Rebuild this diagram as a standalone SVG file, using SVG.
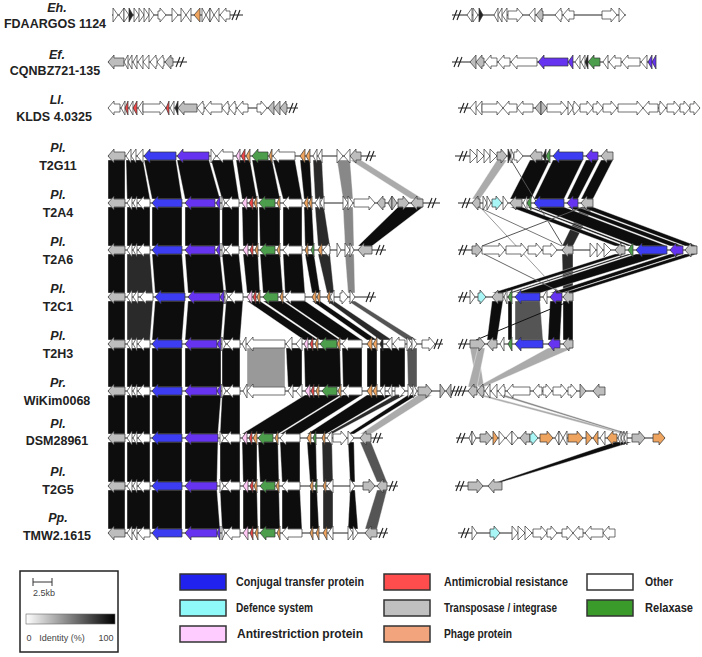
<svg xmlns="http://www.w3.org/2000/svg" xmlns:xlink="http://www.w3.org/1999/xlink" width="702" height="657" viewBox="0 0 702 657">
<style>
.lbl{font-family:"Liberation Sans",Arial,sans-serif;font-size:12.5px;font-weight:bold;fill:#222;text-anchor:middle}
.sp{font-style:italic}
.row{fill:#fff}
.row path{stroke:#333;stroke-width:.7}
.tr{stroke:#222;stroke-width:1}
.brk line{stroke:#222;stroke-width:1.1}
.gr{fill:#bdbdbd}.b{fill:#3c3cf2}.p{fill:#6633f0}.g{fill:#4c9e4c}.o{fill:#eea45e}.r{fill:#f04848}.k{fill:#ffc8f5}.c{fill:#a8f6f6}.d{fill:#222}
#links polygon{stroke:#fff;stroke-width:.4}
.k1{fill:#0d0d0d}.k2{fill:#2a2a2a}.k3{fill:#555}.k4{fill:#888}.k5{fill:#ababab}.k6{fill:#999}
#links line{stroke-width:1}
.leg{font-family:"Liberation Sans",Arial,sans-serif;font-size:12px;font-weight:bold;fill:#222}
.sw{stroke:#333;stroke-width:1.5}
.sm{font-family:"Liberation Sans",Arial,sans-serif;font-size:9px;fill:#444;text-anchor:middle}
</style>
<defs>
<g id="brk" class="brk"><line x1="-4" y1="5" x2="0" y2="-5"/><line x1="0" y1="5" x2="4" y2="-5"/></g>
<linearGradient id="idg" x1="0" x2="1" y1="0" y2="0"><stop offset="0" stop-color="#fff"/><stop offset="1" stop-color="#000"/></linearGradient>
</defs>
<rect width="702" height="657" fill="#fff"/>

<g id="links">
<!-- 1-2 -->
<polygon class="k1" points="108,160 125,160 125,199 108,199"/>
<polygon class="k1" points="126,160 143,160 150,199 127,199"/>
<polygon class="k1" points="144,160 176,160 182,199 152,199"/>
<polygon class="k1" points="177,160 209,160 220,199 185,199"/>
<polygon class="k1" points="211,160 233,160 239,199 222,199"/>
<polygon class="k1" points="236,160 250,160 257,199 242,199"/>
<polygon class="k1" points="252,160 272,160 280,199 259,199"/>
<polygon class="k1" points="273,160 295,160 302,199 283,199"/>
<polygon class="k1" points="300,160 310,160 312,199 304,199"/>
<polygon class="k2" points="313,160 322,160 324,199 315,199"/>
<polygon class="k4" points="337,160 350,160 353,199 343,199"/>
<polygon class="k5" points="350,160 361,160 423,199 411,199"/>
<!-- 2-3 -->
<polygon class="k1" points="108,207 125,207 125,246 108,246"/>
<polygon class="k1" points="127,207 150,207 150,246 127,246"/>
<polygon class="k1" points="152,207 182,207 182,246 152,246"/>
<polygon class="k1" points="185,207 220,207 220,246 185,246"/>
<polygon class="k1" points="222,207 239,207 239,246 222,246"/>
<polygon class="k1" points="242,207 258,207 258,246 243,246"/>
<polygon class="k1" points="259,207 280,207 280,246 260,246"/>
<polygon class="k1" points="283,207 302,207 302,246 283,246"/>
<polygon class="k1" points="304,207 312,207 314,246 305,246"/>
<polygon class="k2" points="315,207 324,207 330,246 318,246"/>
<polygon class="k4" points="343,207 353,207 354,246 345,246"/>
<polygon class="k1" points="398,207 423,207 372,246 358,246"/>
<!-- 3-4 -->
<polygon class="k1" points="108,254 125,254 125,293 108,293"/>
<polygon class="k2" points="127,254 150,254 153,293 127,293"/>
<polygon class="k1" points="152,254 182,254 185,293 155,293"/>
<polygon class="k1" points="185,254 220,254 224,293 188,293"/>
<polygon class="k1" points="222,254 239,254 243,293 226,293"/>
<polygon class="k1" points="243,254 258,254 260,293 247,293"/>
<polygon class="k1" points="260,254 280,254 283,293 263,293"/>
<polygon class="k1" points="283,254 302,254 305,293 285,293"/>
<polygon class="k1" points="305,254 314,254 320,293 312,293"/>
<polygon class="k2" points="318,254 330,254 334,293 327,293"/>
<polygon class="k4" points="345,254 354,254 355,293 348,293"/>
<!-- 4-5 -->
<polygon class="k1" points="108,301 125,301 125,340 108,340"/>
<polygon class="k2" points="127,301 153,301 150,340 127,340"/>
<polygon class="k1" points="155,301 185,301 182,340 152,340"/>
<polygon class="k1" points="188,301 224,301 221,340 185,340"/>
<polygon class="k1" points="226,301 243,301 240,340 223,340"/>
<polygon class="k1" points="247,301 260,301 318,340 304,340"/>
<polygon class="k1" points="263,301 283,301 340,340 320,340"/>
<polygon class="k1" points="285,301 305,301 362,340 342,340"/>
<polygon class="k1" points="312,301 320,301 377,340 367,340"/>
<polygon class="k2" points="327,301 334,301 392,340 380,340"/>
<polygon class="k3" points="348,301 355,301 417,340 407,340"/>
<!-- 5-6 -->
<polygon class="k1" points="108,348 125,348 125,387 108,387"/>
<polygon class="k1" points="127,348 150,348 150,387 127,387"/>
<polygon class="k1" points="152,348 182,348 182,387 152,387"/>
<polygon class="k1" points="185,348 221,348 221,387 185,387"/>
<polygon class="k1" points="222,348 240,348 240,387 222,387"/>
<polygon class="k6" points="247,348 285,348 285,387 247,387"/>
<polygon class="k1" points="286,348 302,348 302,387 288,387"/>
<polygon class="k1" points="304,348 340,348 341,387 305,387"/>
<polygon class="k1" points="342,348 362,348 362,387 343,387"/>
<polygon class="k1" points="367,348 377,348 377,387 367,387"/>
<polygon class="k1" points="380,348 405,348 405,387 380,387"/>
<polygon class="k3" points="407,348 417,348 417,387 408,387"/>
<!-- 6-7 -->
<polygon class="k1" points="108,395 125,395 125,434 108,434"/>
<polygon class="k1" points="127,395 150,395 150,434 127,434"/>
<polygon class="k1" points="152,395 182,395 182,434 152,434"/>
<polygon class="k1" points="185,395 221,395 218,434 185,434"/>
<polygon class="k1" points="222,395 240,395 240,434 220,434"/>
<polygon class="k1" points="305,395 341,395 278,434 242,434"/>
<polygon class="k1" points="343,395 362,395 300,434 280,434"/>
<polygon class="k1" points="367,395 392,395 326,434 307,434"/>
<polygon class="k2" points="395,395 405,395 332,434 327,434"/>
<polygon class="k1" points="408,395 417,395 354,434 348,434"/>
<polygon class="k5" points="418,395 432,395 371,434 360,434"/>
<!-- 7-8 -->
<polygon class="k1" points="108,442 125,442 125,482 108,482"/>
<polygon class="k1" points="127,442 150,442 150,482 127,482"/>
<polygon class="k1" points="152,442 182,442 182,482 152,482"/>
<polygon class="k1" points="185,442 218,442 217,482 185,482"/>
<polygon class="k1" points="220,442 240,442 240,482 220,482"/>
<polygon class="k1" points="242,442 257,442 257,482 243,482"/>
<polygon class="k1" points="258,442 278,442 279,482 260,482"/>
<polygon class="k1" points="280,442 300,442 300,482 282,482"/>
<polygon class="k1" points="307,442 316,442 317,482 310,482"/>
<polygon class="k2" points="322,442 332,442 333,482 323,482"/>
<polygon class="k1" points="348,442 354,442 355,482 350,482"/>
<polygon class="k3" points="360,442 371,442 387,482 377,482"/>
<!-- 8-9 -->
<polygon class="k1" points="108,490 125,490 125,529 108,529"/>
<polygon class="k1" points="127,490 150,490 150,529 127,529"/>
<polygon class="k1" points="152,490 182,490 182,529 152,529"/>
<polygon class="k1" points="185,490 217,490 220,529 185,529"/>
<polygon class="k1" points="220,490 240,490 240,529 222,529"/>
<polygon class="k1" points="243,490 257,490 258,529 243,529"/>
<polygon class="k1" points="260,490 279,490 280,529 260,529"/>
<polygon class="k1" points="282,490 300,490 302,529 282,529"/>
<polygon class="k1" points="310,490 317,490 319,529 310,529"/>
<polygon class="k2" points="323,490 333,490 333,529 323,529"/>
<polygon class="k1" points="350,490 355,490 358,529 348,529"/>
<polygon class="k3" points="377,490 387,490 377,529 365,529"/>
<!-- right 1-2 -->
<polygon class="k5" points="497,160 507,160 480,199 472,199"/>
<polygon class="k1" points="530,160 550,160 531,199 510,199"/>
<polygon class="k1" points="553,160 583,160 564,199 534,199"/>
<polygon class="k1" points="586,160 598,160 578,199 567,199"/>
<polygon class="k1" points="601,160 613,160 593,199 581,199"/>
<line x1="511" y1="160" x2="563" y2="246" stroke="#555"/>
<!-- right 2-3 -->
<polygon class="k2" points="581,207 593,207 573,246 562,246"/>
<polygon class="k1" points="510,207 522,207 625,246 615,246"/>
<polygon class="k1" points="527,207 531,207 633,246 628,246"/>
<polygon class="k1" points="534,207 564,207 667,246 636,246"/>
<polygon class="k1" points="567,207 578,207 683,246 670,246"/>
<polygon class="k1" points="581,207 593,207 697,246 685,246"/>
<line x1="478" y1="207" x2="562" y2="246" stroke="#777"/>
<line x1="480" y1="207" x2="560" y2="293" stroke="#999" stroke-width=".8"/>
<line x1="482" y1="246" x2="583" y2="207" stroke="#555"/>
<!-- right 3-4 -->
<polygon class="k2" points="562,254 573,254 573,293 563,293"/>
<polygon class="k1" points="615,254 625,254 503,293 492,293"/>
<polygon class="k1" points="628,254 633,254 512,293 508,293"/>
<polygon class="k1" points="636,254 667,254 540,293 515,293"/>
<polygon class="k1" points="670,254 683,254 562,293 550,293"/>
<polygon class="k1" points="685,254 697,254 573,293 563,293"/>
<line x1="484" y1="254" x2="562" y2="293" stroke="#666"/>
<!-- right 4-5 -->
<polygon class="k1" points="492,301 503,301 497,340 487,340"/>
<polygon class="k1" points="508,301 512,301 512,340 508,340"/>
<polygon class="k3" points="515,301 540,301 543,340 515,340"/>
<polygon class="k1" points="550,301 562,301 560,340 548,340"/>
<polygon class="k1" points="563,301 573,301 573,340 563,340"/>
<line x1="570" y1="301" x2="476" y2="340" stroke="#111" stroke-width="2"/>
<!-- right 5-6 -->
<polygon class="k5" points="470,348 478,348 484,387 477,387"/>
<polygon class="k5" points="478,348 485,348 477,387 468,387"/>
<polygon class="k5" points="548,348 573,348 484,387 477,387"/>
<!-- right 6-7 -->
<polygon class="k5" points="477,395 484,395 632,434 622,434"/>
<polygon class="k4" points="498,395 505,395 630,434 625,434"/>
<!-- right 7-8 -->
<polygon class="k1" points="615,442 632,442 502,482 497,482"/>
</g>

<g id="Eh-FDAARGOS1124">
<text class="lbl sp" x="57" y="12">Eh.</text>
<text class="lbl" x="55" y="28">FDAARGOS 1124</text>
<g class="row" transform="translate(0,15)">
<line class="tr" x1="112" y1="0" x2="243" y2="0"/><use href="#brk" x="236"/>
<path d="M118,0l-5,-7v14z"/><path d="M119,0l5,-7v14z"/><path d="M129,0l-5,-7v14z"/><path class="d" d="M133,0l-4,-7v14z"/><path d="M139,0l-5,-7v14z"/><path d="M144,0l-5,-7v14z"/><path d="M149,0l-5,-7v14z"/><path d="M154,0l-5,-7v14z"/><path d="M166,0l-6,-7v3h-2v8h2v3z"/><path d="M178,0l-6,-7v14z"/><path d="M186,0l-5,-7v14z"/><path d="M186,0l5,-7v14z"/><path class="o" d="M194,0l6,-7v14z"/><path d="M206,0l-4,-7v14z"/><path d="M206,0l4,-7v14z"/><path d="M214,0l-4,-7v14z"/><path d="M214,0l5,-7v14z"/><path d="M220,0l6,-7v3h4v8h-4v3z"/>
</g>
<g class="row" transform="translate(0,15)">
<line class="tr" x1="452" y1="0" x2="626" y2="0"/><use href="#brk" x="457"/>
<path d="M467,0l5,-7v14z"/><path d="M478,0l-5,-7v14z"/><path class="d" d="M483,0l-4,-7v14z"/><path d="M494,0l4,-7v14z"/><path d="M498,0l4,-7v14z"/><path d="M502,0l5,-7v14z"/><path d="M523,0l-6,-7v3h-9v8h9v3z"/><path d="M529,0l6,-7v14z"/><path class="gr" d="M536,0l6,-7v3h1v8h-1v3z"/><path d="M555,0l6,-7v3h1v8h-1v3z"/><path d="M563,0l6,-7v3h5v8h-5v3z"/><path d="M617,0l-6,-7v3h-9v8h9v3z"/><path d="M625,0l-6,-7v14z"/>
</g>
</g>

<g id="Ef-CQNBZ721-135">
<text class="lbl sp" x="57" y="59">Ef.</text>
<text class="lbl" x="55" y="75">CQNBZ721-135</text>
<g class="row" transform="translate(0,62)">
<line class="tr" x1="108" y1="0" x2="187" y2="0"/><use href="#brk" x="180"/>
<path class="gr" d="M108,0l6,-7v3h10v8h-10v3z"/><path d="M124,0l4,-7v14z"/><path d="M128,0l4,-7v14z"/><path d="M133,0l4,-7v14z"/><path d="M138,0l5,-7v14z"/><path d="M143,0l6,-7v14z"/><path d="M150,0l6,-7v3h1v8h-1v3z"/><path d="M157,0l6,-7v3h1v8h-1v3z"/><path class="gr" d="M165,0l6,-7v3h2v8h-2v3z"/>
</g>
<g class="row" transform="translate(0,62)">
<line class="tr" x1="452" y1="0" x2="656" y2="0"/><use href="#brk" x="458"/>
<path class="gr" d="M470,0l6,-7v14z"/><path class="gr" d="M476,0l6,-7v3h2v8h-2v3z"/><path d="M485,0l6,-7v3h6v8h-6v3z"/><path d="M498,0l6,-7v3h6v8h-6v3z"/><path d="M511,0l6,-7v3h20v8h-20v3z"/><path class="p" d="M538,0l6,-7v3h24v8h-24v3z"/><path class="p" d="M568,0l5,-7v14z"/><path d="M575,0l5,-7v14z"/><path d="M581,0l4,-7v14z"/><path class="d" d="M585,0l3,-7v14z"/><path class="g" d="M588,0l6,-7v3h6v8h-6v3z"/><path d="M603,0l5,-7v14z"/><path d="M609,0l6,-7v3h6v8h-6v3z"/><path d="M622,0l6,-7v3h12v8h-12v3z"/><path d="M641,0l6,-7v14z"/><path class="p" d="M648,0l4,-7v14z"/><path class="p" d="M652,0l4,-7v14z"/>
</g>
</g>

<g id="Ll-KLDS4.0325">
<text class="lbl sp" x="57" y="104">Ll.</text>
<text class="lbl" x="54" y="121">KLDS 4.0325</text>
<g class="row" transform="translate(0,108)">
<line class="tr" x1="108" y1="0" x2="298" y2="0"/><use href="#brk" x="293"/>
<path d="M108,0l6,-7v3h6v8h-6v3z"/><path d="M121,0l4,-7v14z"/><path class="r" d="M125,0l3,-7v14z"/><path d="M129,0l4,-7v14z"/><path class="r" d="M133,0l4,-7v14z"/><path d="M138,0l5,-7v14z"/><path d="M166,0l-6,-7v3h-17v8h17v3z"/><path class="r" d="M166,0l3,-7v14z"/><path d="M170,0l4,-7v14z"/><path class="d" d="M175,0l3,-7v14z"/><path class="gr" d="M178,0l6,-7v3h13v8h-13v3z"/><path d="M197,0l6,-7v3h1v8h-1v3z"/><path d="M205,0l6,-7v3h11v8h-11v3z"/><path d="M222,0l6,-7v3h1v8h-1v3z"/><path d="M229,0l6,-7v3h1v8h-1v3z"/><path d="M237,0l6,-7v3h5v8h-5v3z"/><path d="M267,0l-6,-7v3h-4v8h4v3z"/><path class="gr" d="M268,0l6,-7v14z"/><path class="gr" d="M274,0l6,-7v14z"/><path class="gr" d="M280,0l6,-7v3h1v8h-1v3z"/>
</g>
<g class="row" transform="translate(0,108)">
<line class="tr" x1="458" y1="0" x2="700" y2="0"/><use href="#brk" x="464"/>
<path d="M470,0l6,-7v14z"/><path d="M476,0l6,-7v14z"/><path d="M503,0l-6,-7v3h-15v8h15v3z"/><path d="M503,0l6,-7v3h8v8h-8v3z"/><path d="M517,0l6,-7v3h10v8h-10v3z"/><path class="gr" d="M535,0l6,-7v14z"/><path class="gr" d="M547,0l-6,-7v14z"/><path d="M567,0l-6,-7v3h-14v8h14v3z"/><path d="M573,0l-5,-7v14z"/><path d="M580,0l-6,-7v3h-1v8h1v3z"/><path d="M593,0l-6,-7v3h-7v8h7v3z"/><path d="M603,0l-6,-7v3h-4v8h4v3z"/><path d="M617,0l-6,-7v3h-8v8h8v3z"/><path d="M643,0l-6,-7v3h-19v8h19v3z"/><path d="M643,0l6,-7v3h9v8h-9v3z"/><path d="M666,0l-6,-7v3h-1v8h1v3z"/><path d="M680,0l-6,-7v3h-7v8h7v3z"/><path d="M690,0l-6,-7v3h-4v8h4v3z"/><path d="M700,0l-6,-7v3h-4v8h4v3z"/>
</g>
</g>

<g id="Pl-T2G11">
<text class="lbl sp" x="58" y="152">Pl.</text>
<text class="lbl" x="58" y="170">T2G11</text>
<g class="row" transform="translate(0,156)">
<line class="tr" x1="108" y1="0" x2="376" y2="0"/><use href="#brk" x="370"/>
<path class="gr" d="M108,0l6,-7v3h11v8h-11v3z"/><path d="M126,0l5,-7v14z"/><path d="M131,0l5,-7v14z"/><path d="M137,0l6,-7v14z"/><path class="b" d="M144,0l6,-7v3h26v8h-26v3z"/><path class="p" d="M177,0l6,-7v3h26v8h-26v3z"/><path d="M216,0l-5,-7v14z"/><path d="M217,0l6,-7v3h10v8h-10v3z"/><path class="k" d="M236,0l4,-7v14z"/><path class="r" d="M241,0l4,-7v14z"/><path class="o" d="M246,0l4,-7v14z"/><path class="g" d="M252,0l6,-7v3h10v8h-10v3z"/><path class="o" d="M269,0l3,-7v14z"/><path d="M273,0l6,-7v3h16v8h-16v3z"/><path class="o" d="M300,0l5,-7v14z"/><path class="o" d="M306,0l4,-7v14z"/><path d="M313,0l4,-7v14z"/><path d="M318,0l4,-7v14z"/><path d="M343,0l-6,-7v14z"/><path d="M344,0l6,-7v14z"/><path class="gr" d="M350,0l6,-7v3h5v8h-5v3z"/>
</g>
<g class="row" transform="translate(0,156)">
<line class="tr" x1="455" y1="0" x2="613" y2="0"/><use href="#brk" x="463"/>
<path d="M477,0l-7,-7v14z"/><path d="M484,0l-7,-7v14z"/><path d="M490,0l-6,-7v14z"/><path d="M497,0l-7,-7v14z"/><path class="gr" d="M507,0l-6,-7v3h-4v8h4v3z"/><path class="d" d="M511,0l-3,-7v14z"/><path d="M514,0l-3,-7v14z"/><path d="M523,0l-6,-7v3h-3v8h3v3z"/><path class="gr" d="M530,0l6,-7v3h6v8h-6v3z"/><path class="d" d="M543,0l3,-7v14z"/><path class="g" d="M546,0l4,-7v14z"/><path class="b" d="M553,0l6,-7v3h24v8h-24v3z"/><path class="p" d="M586,0l6,-7v3h6v8h-6v3z"/><path class="gr" d="M601,0l6,-7v3h6v8h-6v3z"/>
</g>
</g>

<g id="Pl-T2A4">
<text class="lbl sp" x="58" y="199">Pl.</text>
<text class="lbl" x="58" y="217">T2A4</text>
<g class="row" transform="translate(0,203)">
<line class="tr" x1="108" y1="0" x2="440" y2="0"/><use href="#brk" x="432"/>
<path class="gr" d="M108,0l6,-7v3h11v8h-11v3z"/><path d="M127,0l5,-7v14z"/><path d="M133,0l4,-7v14z"/><path d="M138,0l6,-7v3h6v8h-6v3z"/><path class="b" d="M152,0l6,-7v3h24v8h-24v3z"/><path class="p" d="M185,0l6,-7v3h24v8h-24v3z"/><path class="p" d="M216,0l4,-7v14z"/><path d="M225,0l-3,-7v14z"/><path d="M226,0l6,-7v3h7v8h-7v3z"/><path class="k" d="M242,0l5,-7v14z"/><path class="r" d="M249,0l4,-7v14z"/><path class="o" d="M254,0l3,-7v14z"/><path class="g" d="M259,0l6,-7v3h10v8h-10v3z"/><path class="o" d="M277,0l3,-7v14z"/><path d="M283,0l6,-7v3h13v8h-13v3z"/><path class="o" d="M304,0l4,-7v14z"/><path class="o" d="M309,0l3,-7v14z"/><path d="M315,0l5,-7v14z"/><path d="M320,0l4,-7v14z"/><path d="M348,0l-5,-7v14z"/><path d="M353,0l-5,-7v14z"/><path d="M375,0l-6,-7v3h-15v8h15v3z"/><path class="gr" d="M377,0l6,-7v3h2v8h-2v3z"/><path class="gr" d="M388,0l4,-7v14z"/><path class="gr" d="M397,0l-5,-7v14z"/><path class="gr" d="M409,0l-6,-7v3h-5v8h5v3z"/><path class="gr" d="M411,0l6,-7v3h6v8h-6v3z"/>
</g>
<g class="row" transform="translate(0,203)">
<line class="tr" x1="458" y1="0" x2="593" y2="0"/><use href="#brk" x="466"/>
<path class="gr" d="M472,0l6,-7v3h2v8h-2v3z"/><path d="M487,0l-4,-7v14z"/><path d="M491,0l-4,-7v14z"/><path class="c" d="M502,0l-6,-7v3h-4v8h4v3z"/><path d="M508,0l-5,-7v14z"/><path class="gr" d="M510,0l6,-7v3h6v8h-6v3z"/><path d="M523,0l4,-7v14z"/><path class="g" d="M527,0l4,-7v14z"/><path class="b" d="M534,0l6,-7v3h24v8h-24v3z"/><path class="p" d="M567,0l6,-7v3h5v8h-5v3z"/><path class="gr" d="M581,0l6,-7v3h6v8h-6v3z"/>
</g>
</g>

<g id="Pl-T2A6">
<text class="lbl sp" x="58" y="246">Pl.</text>
<text class="lbl" x="58" y="264">T2A6</text>
<g class="row" transform="translate(0,250)">
<line class="tr" x1="108" y1="0" x2="386" y2="0"/><use href="#brk" x="380"/>
<path class="gr" d="M108,0l6,-7v3h11v8h-11v3z"/><path d="M127,0l5,-7v14z"/><path d="M133,0l4,-7v14z"/><path d="M138,0l6,-7v3h6v8h-6v3z"/><path class="b" d="M152,0l6,-7v3h24v8h-24v3z"/><path class="p" d="M185,0l6,-7v3h24v8h-24v3z"/><path class="p" d="M216,0l4,-7v14z"/><path d="M225,0l-3,-7v14z"/><path d="M226,0l6,-7v3h7v8h-7v3z"/><path class="k" d="M243,0l5,-7v14z"/><path class="r" d="M250,0l3,-7v14z"/><path class="o" d="M255,0l3,-7v14z"/><path class="g" d="M260,0l6,-7v3h9v8h-9v3z"/><path class="o" d="M277,0l3,-7v14z"/><path d="M283,0l6,-7v3h13v8h-13v3z"/><path class="o" d="M305,0l3,-7v14z"/><path class="g" d="M311,0l3,-7v14z"/><path class="o" d="M318,0l4,-7v14z"/><path d="M323,0l6,-7v3h1v8h-1v3z"/><path d="M341,0l-4,-7v14z"/><path d="M350,0l-5,-7v14z"/><path d="M354,0l-4,-7v14z"/><path class="gr" d="M358,0l6,-7v3h8v8h-8v3z"/>
</g>
<g class="row" transform="translate(0,250)">
<line class="tr" x1="458" y1="0" x2="697" y2="0"/><use href="#brk" x="463"/>
<path class="gr" d="M482,0l-6,-7v3h-4v8h4v3z"/><path d="M505,0l-6,-7v3h-17v8h17v3z"/><path d="M527,0l-6,-7v3h-15v8h15v3z"/><path d="M542,0l-6,-7v3h-8v8h8v3z"/><path d="M557,0l-6,-7v3h-8v8h8v3z"/><path class="gr" d="M562,0l6,-7v3h5v8h-5v3z"/><path d="M596,0l-6,-7v14z"/><path d="M603,0l-6,-7v14z"/><path d="M611,0l-7,-7v14z"/><path class="gr" d="M615,0l6,-7v3h4v8h-4v3z"/><path class="g" d="M628,0l5,-7v14z"/><path class="b" d="M636,0l6,-7v3h25v8h-25v3z"/><path class="p" d="M670,0l6,-7v3h7v8h-7v3z"/><path class="gr" d="M685,0l6,-7v3h6v8h-6v3z"/>
</g>
</g>

<g id="Pl-T2C1">
<text class="lbl sp" x="58" y="293">Pl.</text>
<text class="lbl" x="58" y="311">T2C1</text>
<g class="row" transform="translate(0,297)">
<line class="tr" x1="108" y1="0" x2="376" y2="0"/><use href="#brk" x="370"/>
<path class="gr" d="M108,0l6,-7v3h11v8h-11v3z"/><path d="M127,0l5,-7v14z"/><path d="M133,0l5,-7v14z"/><path d="M140,0l6,-7v3h7v8h-7v3z"/><path class="b" d="M155,0l6,-7v3h24v8h-24v3z"/><path class="p" d="M188,0l6,-7v3h26v8h-26v3z"/><path class="p" d="M220,0l4,-7v14z"/><path d="M228,0l-3,-7v14z"/><path d="M229,0l6,-7v3h8v8h-8v3z"/><path class="k" d="M247,0l5,-7v14z"/><path class="r" d="M253,0l3,-7v14z"/><path class="o" d="M257,0l3,-7v14z"/><path class="g" d="M263,0l6,-7v3h9v8h-9v3z"/><path class="o" d="M280,0l3,-7v14z"/><path d="M285,0l6,-7v3h14v8h-14v3z"/><path class="o" d="M312,0l4,-7v14z"/><path class="o" d="M317,0l3,-7v14z"/><path class="o" d="M327,0l3,-7v14z"/><path d="M330,0l4,-7v14z"/><path d="M348,0l-6,-7v3h-2v8h2v3z"/><path d="M355,0l-5,-7v14z"/>
</g>
<g class="row" transform="translate(0,297)">
<line class="tr" x1="458" y1="0" x2="573" y2="0"/><use href="#brk" x="463"/>
<path d="M475,0l-5,-7v14z"/><path class="c" d="M486,0l-6,-7v3h-2v8h2v3z"/><path class="gr" d="M492,0l6,-7v3h5v8h-5v3z"/><path d="M504,0l3,-7v14z"/><path class="g" d="M508,0l4,-7v14z"/><path class="b" d="M515,0l6,-7v3h19v8h-19v3z"/><path d="M543,0l4,-7v14z"/><path class="p" d="M550,0l6,-7v3h6v8h-6v3z"/><path class="gr" d="M563,0l6,-7v3h4v8h-4v3z"/>
</g>
</g>

<g id="Pl-T2H3">
<text class="lbl sp" x="58" y="340">Pl.</text>
<text class="lbl" x="58" y="358">T2H3</text>
<g class="row" transform="translate(0,344)">
<line class="tr" x1="108" y1="0" x2="443" y2="0"/><use href="#brk" x="438"/>
<path class="gr" d="M108,0l6,-7v3h11v8h-11v3z"/><path d="M127,0l5,-7v14z"/><path d="M133,0l4,-7v14z"/><path d="M138,0l6,-7v3h6v8h-6v3z"/><path class="b" d="M152,0l6,-7v3h24v8h-24v3z"/><path class="p" d="M185,0l6,-7v3h26v8h-26v3z"/><path class="p" d="M217,0l4,-7v14z"/><path d="M226,0l-4,-7v14z"/><path d="M227,0l6,-7v3h7v8h-7v3z"/><path d="M242,0l4,-7v14z"/><path d="M247,0l6,-7v3h32v8h-32v3z"/><path d="M286,0l6,-7v14z"/><path d="M296,0l6,-7v14z"/><path class="k" d="M304,0l4,-7v14z"/><path class="r" d="M310,0l3,-7v14z"/><path class="o" d="M315,0l3,-7v14z"/><path class="g" d="M320,0l6,-7v3h11v8h-11v3z"/><path class="o" d="M337,0l3,-7v14z"/><path d="M342,0l6,-7v3h14v8h-14v3z"/><path class="o" d="M367,0l5,-7v14z"/><path class="o" d="M373,0l4,-7v14z"/><path class="d" d="M380,0l3,-7v14z"/><path d="M386,0l6,-7v14z"/><path d="M393,0l6,-7v3h6v8h-6v3z"/><path d="M412,0l-5,-7v14z"/><path d="M417,0l-5,-7v14z"/><path d="M435,0l-6,-7v3h-7v8h7v3z"/>
</g>
<g class="row" transform="translate(0,344)">
<line class="tr" x1="458" y1="0" x2="573" y2="0"/><use href="#brk" x="463"/>
<path class="gr" d="M485,0l-6,-7v3h-9v8h9v3z"/><path class="gr" d="M487,0l6,-7v3h4v8h-4v3z"/><path d="M500,0l4,-7v14z"/><path class="g" d="M508,0l4,-7v14z"/><path class="b" d="M515,0l6,-7v3h22v8h-22v3z"/><path class="p" d="M548,0l6,-7v3h6v8h-6v3z"/><path class="gr" d="M563,0l6,-7v3h4v8h-4v3z"/>
</g>
</g>

<g id="Pr-WiKim0068">
<text class="lbl sp" x="58" y="387">Pr.</text>
<text class="lbl" x="57" y="405">WiKim0068</text>
<g class="row" transform="translate(0,391)">
<line class="tr" x1="108" y1="0" x2="605" y2="0"/><use href="#brk" x="455"/><use href="#brk" x="462"/>
<path class="gr" d="M108,0l6,-7v3h11v8h-11v3z"/><path d="M127,0l5,-7v14z"/><path d="M133,0l4,-7v14z"/><path d="M138,0l6,-7v3h6v8h-6v3z"/><path class="b" d="M152,0l6,-7v3h24v8h-24v3z"/><path class="p" d="M185,0l6,-7v3h26v8h-26v3z"/><path class="p" d="M217,0l4,-7v14z"/><path d="M226,0l-4,-7v14z"/><path d="M227,0l6,-7v3h7v8h-7v3z"/><path d="M243,0l4,-7v14z"/><path d="M247,0l6,-7v3h32v8h-32v3z"/><path d="M288,0l5,-7v14z"/><path d="M296,0l6,-7v14z"/><path class="k" d="M305,0l5,-7v14z"/><path class="r" d="M311,0l3,-7v14z"/><path class="o" d="M316,0l3,-7v14z"/><path class="g" d="M322,0l6,-7v3h9v8h-9v3z"/><path class="o" d="M338,0l3,-7v14z"/><path d="M343,0l6,-7v3h13v8h-13v3z"/><path class="o" d="M367,0l5,-7v14z"/><path class="o" d="M373,0l4,-7v14z"/><path d="M380,0l5,-7v14z"/><path d="M388,0l4,-7v14z"/><path d="M405,0l-6,-7v3h-4v8h4v3z"/><path d="M413,0l-5,-7v14z"/><path d="M417,0l-4,-7v14z"/><path class="gr" d="M432,0l-6,-7v3h-8v8h8v3z"/><path class="gr" d="M445,0l-5,-7v14z"/><path class="gr" d="M446,0l5,-7v14z"/>
<path class="gr" d="M468,0l6,-7v3h3v8h-3v3z"/><path class="gr" d="M477,0l6,-7v3h1v8h-1v3z"/><path d="M485,0l5,-7v14z"/><path d="M491,0l6,-7v14z"/><path d="M498,0l6,-7v3h1v8h-1v3z"/><path d="M507,0l6,-7v3h17v8h-17v3z"/><path d="M533,0l6,-7v3h3v8h-3v3z"/><path d="M552,0l-6,-7v3h-3v8h3v3z"/><path d="M567,0l-6,-7v3h-8v8h8v3z"/><path d="M577,0l-6,-7v3h-3v8h3v3z"/><path class="gr" d="M586,0l-6,-7v14z"/><path class="gr" d="M593,0l6,-7v3h6v8h-6v3z"/>
</g>
</g>

<g id="Pl-DSM28961">
<text class="lbl sp" x="58" y="428">Pl.</text>
<text class="lbl" x="57" y="445">DSM28961</text>
<g class="row" transform="translate(0,438)">
<line class="tr" x1="108" y1="0" x2="383" y2="0"/><use href="#brk" x="377"/>
<path class="gr" d="M108,0l6,-7v3h11v8h-11v3z"/><path d="M127,0l5,-7v14z"/><path d="M133,0l4,-7v14z"/><path d="M138,0l6,-7v3h6v8h-6v3z"/><path class="b" d="M152,0l6,-7v3h24v8h-24v3z"/><path class="p" d="M185,0l6,-7v3h27v8h-27v3z"/><path d="M224,0l-4,-7v14z"/><path d="M225,0l6,-7v3h9v8h-9v3z"/><path class="k" d="M242,0l5,-7v14z"/><path class="r" d="M249,0l3,-7v14z"/><path class="o" d="M253,0l4,-7v14z"/><path class="g" d="M258,0l6,-7v3h9v8h-9v3z"/><path class="o" d="M275,0l3,-7v14z"/><path d="M280,0l6,-7v3h14v8h-14v3z"/><path class="o" d="M307,0l4,-7v14z"/><path class="g" d="M313,0l3,-7v14z"/><path class="o" d="M322,0l3,-7v14z"/><path d="M327,0l5,-7v14z"/><path d="M347,0l-6,-7v3h-8v8h8v3z"/><path d="M354,0l-6,-7v14z"/><path class="gr" d="M360,0l6,-7v3h5v8h-5v3z"/>
</g>
<g class="row" transform="translate(0,438)">
<line class="tr" x1="456" y1="0" x2="665" y2="0"/><use href="#brk" x="461"/>
<path d="M469,0l3,-7v14z"/><path d="M476,0l-4,-7v14z"/><path class="gr" d="M492,0l-6,-7v3h-6v8h6v3z"/><path class="o" d="M498,0l-5,-7v14z"/><path d="M505,0l-6,-7v14z"/><path d="M506,0l6,-7v14z"/><path d="M518,0l-6,-7v14z"/><path class="gr" d="M520,0l6,-7v3h4v8h-4v3z"/><path class="c" d="M538,0l-6,-7v3h-2v8h2v3z"/><path class="o" d="M553,0l-6,-7v3h-7v8h7v3z"/><path d="M555,0l4,-7v14z"/><path d="M563,0l-4,-7v14z"/><path d="M563,0l4,-7v14z"/><path class="o" d="M583,0l-6,-7v3h-9v8h9v3z"/><path class="o" d="M592,0l-6,-7v14z"/><path class="o" d="M593,0l5,-7v14z"/><path d="M600,0l5,-7v14z"/><path class="o" d="M607,0l6,-7v3h4v8h-4v3z"/><path d="M618,0l3,-7v14z"/><path d="M621,0l3,-7v14z"/><path d="M624,0l3,-7v14z"/><path class="gr" d="M645,0l-6,-7v3h-7v8h7v3z"/><path class="o" d="M665,0l-6,-7v3h-6v8h6v3z"/>
</g>
</g>

<g id="Pl-T2G5">
<text class="lbl sp" x="58" y="476">Pl.</text>
<text class="lbl" x="58" y="494">T2G5</text>
<g class="row" transform="translate(0,486)">
<line class="tr" x1="108" y1="0" x2="398" y2="0"/><use href="#brk" x="393"/>
<path class="gr" d="M108,0l6,-7v3h11v8h-11v3z"/><path d="M127,0l5,-7v14z"/><path d="M133,0l4,-7v14z"/><path d="M138,0l6,-7v3h6v8h-6v3z"/><path class="b" d="M152,0l6,-7v3h24v8h-24v3z"/><path class="p" d="M185,0l6,-7v3h26v8h-26v3z"/><path d="M224,0l-4,-7v14z"/><path d="M225,0l6,-7v3h9v8h-9v3z"/><path class="k" d="M243,0l5,-7v14z"/><path class="r" d="M250,0l3,-7v14z"/><path class="o" d="M254,0l3,-7v14z"/><path class="g" d="M260,0l6,-7v3h9v8h-9v3z"/><path class="o" d="M276,0l3,-7v14z"/><path d="M282,0l6,-7v3h12v8h-12v3z"/><path class="o" d="M310,0l3,-7v14z"/><path class="g" d="M315,0l2,-7v14z"/><path class="o" d="M323,0l3,-7v14z"/><path d="M327,0l6,-7v14z"/><path d="M355,0l-5,-7v14z"/><path class="gr" d="M375,0l-6,-7v3h-6v8h6v3z"/><path class="gr" d="M377,0l6,-7v3h4v8h-4v3z"/>
</g>
<g class="row" transform="translate(0,486)">
<line class="tr" x1="455" y1="0" x2="502" y2="0"/><use href="#brk" x="460"/>
<path class="gr" d="M483,0l-6,-7v3h-9v8h9v3z"/><path class="gr" d="M488,0l6,-7v3h8v8h-8v3z"/>
</g>
</g>

<g id="Pp-TMW2.1615">
<text class="lbl sp" x="58" y="522">Pp.</text>
<text class="lbl" x="57" y="540">TMW2.1615</text>
<g class="row" transform="translate(0,533)">
<line class="tr" x1="108" y1="0" x2="388" y2="0"/><use href="#brk" x="383"/>
<path class="gr" d="M108,0l6,-7v3h11v8h-11v3z"/><path d="M127,0l5,-7v14z"/><path d="M133,0l4,-7v14z"/><path d="M138,0l6,-7v3h6v8h-6v3z"/><path class="b" d="M152,0l6,-7v3h24v8h-24v3z"/><path class="p" d="M185,0l6,-7v3h26v8h-26v3z"/><path class="p" d="M217,0l3,-7v14z"/><path d="M225,0l-3,-7v14z"/><path d="M226,0l6,-7v3h8v8h-8v3z"/><path class="k" d="M243,0l5,-7v14z"/><path class="r" d="M250,0l3,-7v14z"/><path class="o" d="M255,0l3,-7v14z"/><path class="g" d="M260,0l6,-7v3h9v8h-9v3z"/><path class="o" d="M277,0l3,-7v14z"/><path d="M282,0l6,-7v3h14v8h-14v3z"/><path class="o" d="M310,0l3,-7v14z"/><path class="o" d="M316,0l3,-7v14z"/><path class="o" d="M323,0l4,-7v14z"/><path d="M328,0l5,-7v14z"/><path d="M353,0l-5,-7v14z"/><path d="M358,0l-5,-7v14z"/><path class="gr" d="M365,0l6,-7v3h6v8h-6v3z"/>
</g>
<g class="row" transform="translate(0,533)">
<line class="tr" x1="458" y1="0" x2="615" y2="0"/><use href="#brk" x="465"/>
<path d="M477,0l-5,-7v14z"/><path class="c" d="M500,0l-6,-7v3h-4v8h4v3z"/><path d="M518,0l-6,-7v14z"/><path d="M525,0l-7,-7v14z"/><path d="M532,0l-7,-7v14z"/><path d="M547,0l-6,-7v3h-8v8h8v3z"/><path d="M557,0l-6,-7v3h-4v8h4v3z"/><path d="M573,0l-6,-7v3h-5v8h5v3z"/><path d="M573,0l6,-7v3h4v8h-4v3z"/><path d="M585,0l6,-7v3h12v8h-12v3z"/><path d="M603,0l6,-7v3h6v8h-6v3z"/>
</g>
</g>

<g id="legend-scale">
<rect x="20" y="571" width="98" height="81" fill="#fff" stroke="#222" stroke-width="1.5"/>
<line x1="33" y1="582" x2="52" y2="582" stroke="#333"/>
<line x1="33" y1="578" x2="33" y2="586" stroke="#333"/>
<line x1="52" y1="578" x2="52" y2="586" stroke="#333"/>
<text class="sm" x="44" y="596">2.5kb</text>
<rect x="26" y="614" width="89" height="10" fill="url(#idg)" stroke="#666" stroke-width=".6"/>
<text class="sm" x="29" y="641">0</text>
<text class="sm" x="62" y="641">Identity (%)</text>
<text class="sm" x="106" y="641">100</text>
</g>

<g id="legend">
<rect class="sw" x="180" y="574" width="46" height="16" fill="#2222ee"/>
<text class="leg" x="236" y="586" textLength="128" lengthAdjust="spacingAndGlyphs">Conjugal transfer protein</text>
<rect class="sw" x="180" y="600" width="46" height="16" fill="#8ff8f8"/>
<text class="leg" x="236" y="612" textLength="77" lengthAdjust="spacingAndGlyphs">Defence system</text>
<rect class="sw" x="180" y="626" width="46" height="16" fill="#ffccff"/>
<text class="leg" x="237" y="638" textLength="126" lengthAdjust="spacingAndGlyphs">Antirestriction protein</text>
<rect class="sw" x="384" y="574" width="46" height="16" fill="#ff4d4d"/>
<text class="leg" x="444" y="586" textLength="124" lengthAdjust="spacingAndGlyphs">Antimicrobial resistance</text>
<rect class="sw" x="384" y="600" width="46" height="16" fill="#c0c0c0"/>
<text class="leg" x="444" y="612" textLength="113" lengthAdjust="spacingAndGlyphs">Transposase / integrase</text>
<rect class="sw" x="384" y="626" width="46" height="16" fill="#f2a57c"/>
<text class="leg" x="444" y="638" textLength="68" lengthAdjust="spacingAndGlyphs">Phage protein</text>
<rect class="sw" x="587" y="574" width="46" height="16" fill="#fff"/>
<text class="leg" x="645" y="586" textLength="28" lengthAdjust="spacingAndGlyphs">Other</text>
<rect class="sw" x="587" y="600" width="46" height="16" fill="#3a9a2a"/>
<text class="leg" x="645" y="612" textLength="48" lengthAdjust="spacingAndGlyphs">Relaxase</text>
</g>
</svg>
